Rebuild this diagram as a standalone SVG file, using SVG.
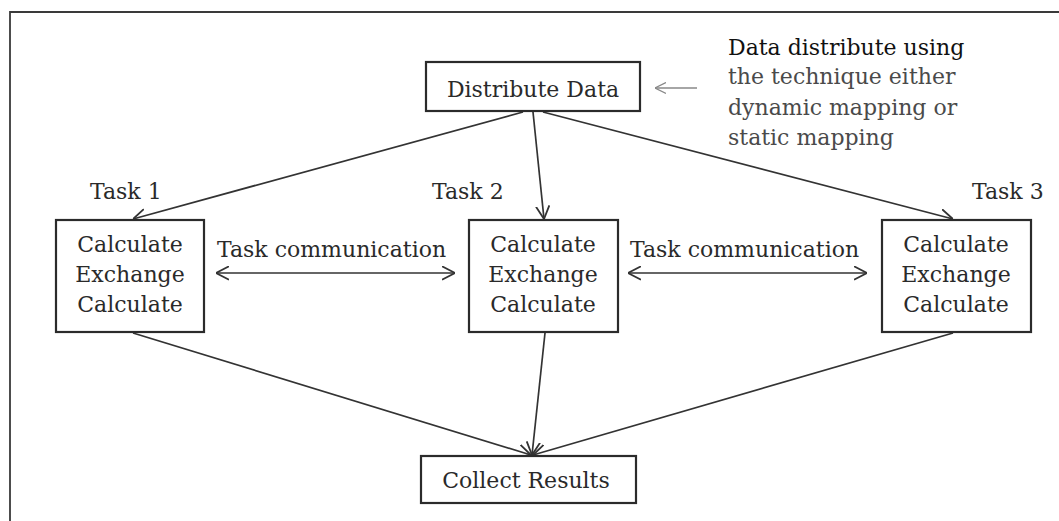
<svg xmlns="http://www.w3.org/2000/svg" width="1059" height="521" viewBox="0 0 1059 521">
  <style>
    .box { fill: #fff; stroke: #2b2b2b; stroke-width: 2.2; }
    .lbl { font-family: "DejaVu Serif", "Liberation Serif", serif; font-size: 22px; fill: #2a2a2a; }
    .mid { text-anchor: middle; }
    .edge { stroke: #333; stroke-width: 1.7; fill: none; }
    .note { font-family: "DejaVu Serif", "Liberation Serif", serif; font-size: 22px; fill: #4a4a4a; }
    .note-head { fill: #111; }
  </style>
  <defs>
    <marker id="open" viewBox="0 0 13 15" refX="13" refY="7.5" markerWidth="13" markerHeight="15" markerUnits="userSpaceOnUse" orient="auto-start-reverse">
      <path d="M0,0.8 L13,7.5 L0,14.2" fill="none" stroke="#333" stroke-width="1.8"/>
    </marker>
    <marker id="thin" viewBox="0 0 12 14" refX="12" refY="7" markerWidth="11" markerHeight="13" markerUnits="userSpaceOnUse" orient="auto">
      <path d="M0,1 L12,7 L0,13" fill="none" stroke="#888" stroke-width="1.4"/>
    </marker>
  </defs>

  <rect width="1059" height="521" fill="#fff"/>

  <!-- outer frame (top and left edges) -->
  <path d="M10,521 L10,12 L1059,12" fill="none" stroke="#3a3a3a" stroke-width="1.8"/>

  <!-- connectors -->
  <g id="connectors">
    <line class="edge" x1="523" y1="112" x2="133" y2="219" marker-end="url(#open)"/>
    <line class="edge" x1="533" y1="112" x2="544" y2="219" marker-end="url(#open)"/>
    <line class="edge" x1="543" y1="112" x2="953" y2="219" marker-end="url(#open)"/>
    <line class="edge" x1="216" y1="273" x2="455" y2="273" marker-start="url(#open)" marker-end="url(#open)"/>
    <line class="edge" x1="628" y1="273" x2="867" y2="273" marker-start="url(#open)" marker-end="url(#open)"/>
    <line class="edge" x1="133" y1="333" x2="531" y2="455" marker-end="url(#open)"/>
    <line class="edge" x1="545" y1="333" x2="532" y2="455" marker-end="url(#open)"/>
    <line class="edge" x1="953" y1="333" x2="533" y2="455" marker-end="url(#open)"/>
    <line x1="697" y1="88" x2="655" y2="88" stroke="#888" stroke-width="1.4" marker-end="url(#thin)"/>
  </g>

  <!-- connector labels -->
  <g id="edge-labels">
    <text class="lbl" x="217" y="257">Task communication</text>
    <text class="lbl" x="630" y="257">Task communication</text>
  </g>

  <g id="distribute">
    <rect class="box" x="426" y="62" width="214" height="49"/>
    <text class="lbl mid" x="533" y="97">Distribute Data</text>
  </g>

  <g id="note">
    <text class="note note-head" x="728" y="55">Data distribute using</text>
    <text class="note" x="728" y="84">the technique either</text>
    <text class="note" x="728" y="115">dynamic mapping or</text>
    <text class="note" x="728" y="145">static mapping</text>
  </g>

  <g id="task1">
    <text class="lbl" x="90" y="199">Task 1</text>
    <rect class="box" x="56" y="220" width="148" height="112"/>
    <text class="lbl mid" x="130" y="252">Calculate</text>
    <text class="lbl mid" x="130" y="282">Exchange</text>
    <text class="lbl mid" x="130" y="312">Calculate</text>
  </g>

  <g id="task2">
    <text class="lbl" x="432" y="199">Task 2</text>
    <rect class="box" x="469" y="220" width="149" height="112"/>
    <text class="lbl mid" x="543" y="252">Calculate</text>
    <text class="lbl mid" x="543" y="282">Exchange</text>
    <text class="lbl mid" x="543" y="312">Calculate</text>
  </g>

  <g id="task3">
    <text class="lbl" x="972" y="199">Task 3</text>
    <rect class="box" x="882" y="220" width="149" height="112"/>
    <text class="lbl mid" x="956" y="252">Calculate</text>
    <text class="lbl mid" x="956" y="282">Exchange</text>
    <text class="lbl mid" x="956" y="312">Calculate</text>
  </g>

  <g id="collect">
    <rect class="box" x="421" y="456" width="215" height="47"/>
    <text class="lbl mid" x="526" y="488">Collect Results</text>
  </g>
</svg>
